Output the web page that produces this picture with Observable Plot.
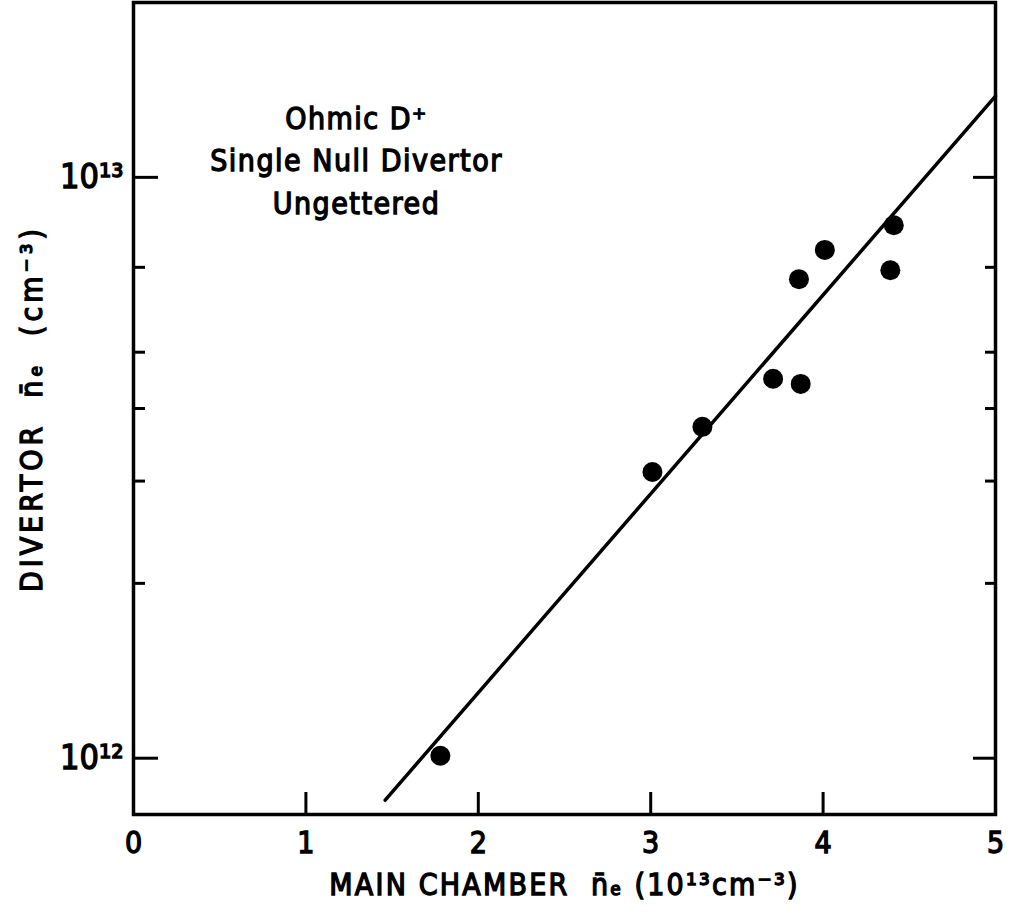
<!DOCTYPE html>
<html>
<head>
<meta charset="utf-8">
<script src="https://cdn.jsdelivr.net/npm/d3@7"></script>
<script src="https://cdn.jsdelivr.net/npm/@observablehq/plot@0.6"></script>
<style>
  html, body { margin: 0; padding: 0; background: #fff; }
  #chart svg { display: block; }
  #chart svg text { stroke: #000; stroke-width: 1.3px; paint-order: stroke; }
</style>
</head>
<body>
<div id="chart"></div>
<script>
// Measured data: main chamber line-averaged density (10^13 cm^-3) vs divertor density (cm^-3)
const mainNe = [1.78, 3.01, 3.30, 3.71, 3.87, 3.86, 4.01, 4.39, 4.41];
const divertorNe = [1.01e12, 3.11e12, 3.72e12, 4.50e12, 4.41e12, 6.68e12, 7.50e12, 6.92e12, 8.27e12];

// Fitted line end points
const fitX = [1.46, 5.0];
const fitY = [8.47e11, 1.38e13];

// Axes
const xDomain = [0, 5];
const yDomain = [8e11, 2e13];
const xTicks = [0, 1, 2, 3, 4, 5];
const xInnerTicks = [1, 2, 3, 4];
const yMajorTicks = [1e12, 1e13];
const yMinorTicks = [2e12, 3e12, 4e12, 5e12, 7e12];
const yTickLabels = ["10¹²", "10¹³"];

const annotation = ["Ohmic D⁺", "Single Null Divertor", "Ungettered"];
const xTitle = "MAIN CHAMBER  n̄ₑ (10¹³cm⁻³)";
const yTitle = "DIVERTOR  n̄ₑ  (cm⁻³)";

const W = 1017, H = 917;
const mL = 133, mR = 22, mT = 2, mB = 103;
const plotW = W - mL - mR, plotH = H - mT - mB;

const points = mainNe.map((x, i) => ({x, y: divertorNe[i]}));
const fit = fitX.map((x, i) => ({x, y: fitY[i]}));
const FONT = "'DejaVu Sans Condensed', 'Liberation Sans Narrow', 'DejaVu Sans', sans-serif";

const chart = Plot.plot({
  width: W,
  height: H,
  marginLeft: mL,
  marginRight: mR,
  marginTop: mT,
  marginBottom: mB,
  style: {fontFamily: FONT, fontSize: "30px", background: "#fff", color: "#000"},
  x: {domain: xDomain},
  y: {type: "log", domain: yDomain},
  marks: [
    Plot.axisX(xTicks, {tickSize: 0, tickPadding: 17, fontSize: 30, tickFormat: d => String(d), label: null}),
    Plot.axisY(yMajorTicks, {tickSize: 0, tickPadding: 10, fontSize: 34, tickFormat: d => yTickLabels[yMajorTicks.indexOf(d)], label: null}),
    // inward ticks
    Plot.ruleX(xInnerTicks, {stroke: "#000", strokeWidth: 3, insetTop: plotH - 22}),
    Plot.ruleY(yMajorTicks, {stroke: "#000", strokeWidth: 3, insetRight: plotW - 25}),
    Plot.ruleY(yMinorTicks, {stroke: "#000", strokeWidth: 3, insetRight: plotW - 12}),
    Plot.ruleY(yMajorTicks, {stroke: "#000", strokeWidth: 3, insetLeft: plotW - 22}),
    Plot.ruleY(yMinorTicks, {stroke: "#000", strokeWidth: 3, insetLeft: plotW - 10}),
    Plot.frame({stroke: "#000", strokeWidth: 3.5}),
    Plot.line(fit, {x: "x", y: "y", stroke: "#000", strokeWidth: 3.5}),
    Plot.dot(points, {x: "x", y: "y", r: 10, fill: "#000", stroke: null}),
    Plot.text([annotation.join("\n")], {frameAnchor: "top-left", dx: 223, dy: 96, lineAnchor: "top", textAnchor: "middle", lineHeight: 1.42, fontSize: 30, fill: "#000"}),
    Plot.text([xTitle], {frameAnchor: "bottom", dy: 80, textAnchor: "middle", fontSize: 30, fill: "#000"}),
    Plot.text([yTitle], {frameAnchor: "left", dx: -101, rotate: -90, textAnchor: "middle", fontSize: 30, fill: "#000"})
  ]
});

// letter spacing tweaks for the lettering style
d3.select(chart).selectAll("text").each(function () {
  const t = this.textContent;
  if (t === xTitle) this.style.letterSpacing = "2.2px";
  else if (t === yTitle) this.style.letterSpacing = "4px";
  else if (annotation.some(a => t.includes(a))) this.style.letterSpacing = "1.5px";
});
document.getElementById("chart").appendChild(chart);
</script>
</body>
</html>
